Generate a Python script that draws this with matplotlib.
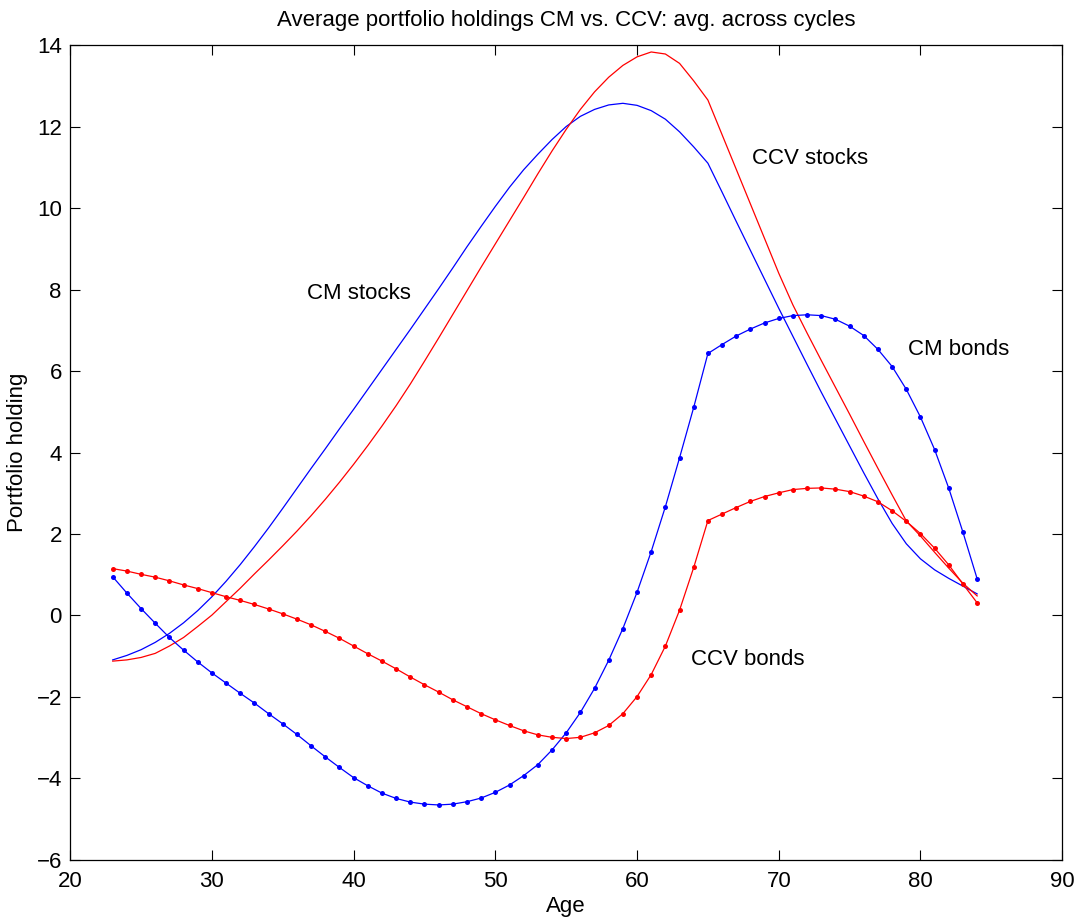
import matplotlib
matplotlib.use("Agg")
import matplotlib.pyplot as plt

plt.rcParams['font.family'] = ['Liberation Sans', 'DejaVu Sans']

ages = list(range(23, 85))

# CM (blue) and CCV (red) portfolio holdings
cm_stocks = [-1.09, -0.98, -0.84, -0.66, -0.44, -0.18, 0.12, 0.46, 0.84, 1.25,
             1.69, 2.15, 2.63, 3.12, 3.61, 4.09, 4.58, 5.06, 5.55, 6.04,
             6.53, 7.02, 7.52, 8.02, 8.53, 9.05, 9.55, 10.04, 10.51, 10.94,
             11.32, 11.68, 12.00, 12.25, 12.42, 12.53, 12.57, 12.52, 12.39, 12.18,
             11.87, 11.50, 11.10, 10.39, 9.67, 8.96, 8.25, 7.54, 6.85, 6.16,
             5.48, 4.82, 4.16, 3.50, 2.86, 2.26, 1.76, 1.39, 1.12, 0.91,
             0.72, 0.53]
ccv_stocks = [-1.12, -1.09, -1.03, -0.93, -0.75, -0.54, -0.27, 0.01, 0.34, 0.67,
              1.02, 1.36, 1.71, 2.07, 2.45, 2.85, 3.27, 3.71, 4.17, 4.65,
              5.15, 5.68, 6.24, 6.81, 7.39, 7.97, 8.55, 9.12, 9.69, 10.26,
              10.84, 11.40, 11.93, 12.42, 12.85, 13.21, 13.50, 13.71, 13.83, 13.78,
              13.55, 13.12, 12.65, 11.80, 10.95, 10.10, 9.25, 8.40, 7.62, 6.93,
              6.26, 5.60, 4.94, 4.27, 3.61, 2.96, 2.32, 1.95, 1.55, 1.16,
              0.79, 0.48]
cm_bonds = [0.95, 0.55, 0.17, -0.19, -0.54, -0.85, -1.14, -1.41, -1.66, -1.91,
            -2.15, -2.41, -2.66, -2.92, -3.20, -3.47, -3.73, -3.98, -4.18, -4.36,
            -4.49, -4.58, -4.63, -4.65, -4.63, -4.57, -4.48, -4.34, -4.16, -3.93,
            -3.66, -3.30, -2.88, -2.38, -1.79, -1.10, -0.32, 0.57, 1.57, 2.67,
            3.87, 5.11, 6.43, 6.65, 6.86, 7.03, 7.18, 7.29, 7.36, 7.38,
            7.36, 7.27, 7.10, 6.87, 6.53, 6.11, 5.55, 4.87, 4.07, 3.12,
            2.04, 0.90]
ccv_bonds = [1.15, 1.09, 1.01, 0.94, 0.85, 0.75, 0.66, 0.56, 0.46, 0.37,
             0.27, 0.16, 0.04, -0.09, -0.23, -0.39, -0.56, -0.75, -0.94, -1.12,
             -1.31, -1.51, -1.70, -1.88, -2.07, -2.24, -2.41, -2.56, -2.70, -2.83,
             -2.93, -2.99, -3.02, -2.99, -2.88, -2.70, -2.41, -1.99, -1.45, -0.75,
             0.13, 1.18, 2.33, 2.49, 2.65, 2.80, 2.92, 3.01, 3.09, 3.12,
             3.13, 3.10, 3.04, 2.93, 2.79, 2.57, 2.31, 2.01, 1.65, 1.24,
             0.77, 0.31]

fs = 16

fig = plt.figure(figsize=(10.8, 9.23), dpi=100)
ax = fig.add_axes([0.065, 0.0683, 0.9185, 0.8829])

ax.plot(ages, cm_stocks, color='blue', lw=0.9)
ax.plot(ages, ccv_stocks, color='red', lw=0.9)
ax.plot(ages, cm_bonds, color='blue', lw=0.9, marker='o', ms=3.6, mec='none')
ax.plot(ages, ccv_bonds, color='red', lw=0.9, marker='o', ms=3.6, mec='none')

ax.text(36.7, 7.91, 'CM stocks', fontsize=fs, va='center')
ax.text(68.1, 11.22, 'CCV stocks', fontsize=fs, va='center')
ax.text(79.1, 6.52, 'CM bonds', fontsize=fs, va='center')
ax.text(63.8, -1.09, 'CCV bonds', fontsize=fs, va='center')

ax.set_xlim(20, 90)
ax.set_ylim(-6, 14)
ax.set_xticks(range(20, 91, 10))
ax.set_yticks(range(-6, 15, 2))
ax.tick_params(direction='in', length=7, width=0.8, top=True, right=True,
               labelsize=fs)
ax.tick_params(axis='x', pad=8)
ax.tick_params(axis='y', pad=6)
for s in ax.spines.values():
    s.set_linewidth(0.9)

ax.set_xlabel('Age', fontsize=fs, labelpad=3)
ax.set_ylabel('Portfolio holding', fontsize=fs, labelpad=6)
ax.set_title('Average portfolio holdings CM vs. CCV: avg. across cycles',
             fontsize=fs, pad=14)

fig.savefig('out.png', dpi=100)
